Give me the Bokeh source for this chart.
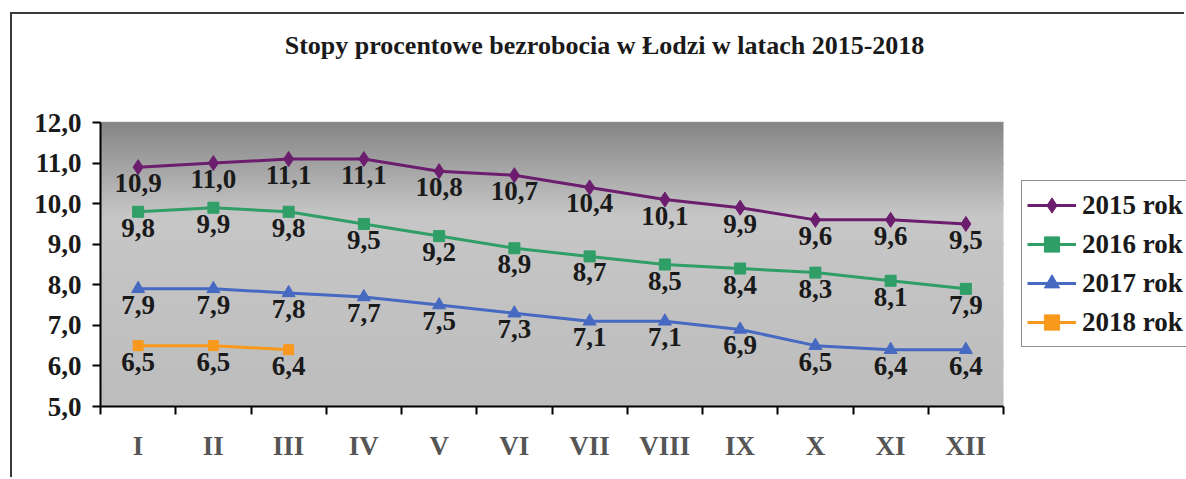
import numpy as np
from bokeh.plotting import figure
from bokeh.models import (FixedTicker, Legend, LegendItem, ColumnDataSource,
                          Range1d, Label)
from bokeh.core.properties import value
from bokeh.embed import file_html
from bokeh.resources import INLINE

# ---------------- data ----------------
months = ["I", "II", "III", "IV", "V", "VI", "VII", "VIII", "IX", "X", "XI", "XII"]
y2015 = [10.9, 11.0, 11.1, 11.1, 10.8, 10.7, 10.4, 10.1, 9.9, 9.6, 9.6, 9.5]
y2016 = [9.8, 9.9, 9.8, 9.5, 9.2, 8.9, 8.7, 8.5, 8.4, 8.3, 8.1, 7.9]
y2017 = [7.9, 7.9, 7.8, 7.7, 7.5, 7.3, 7.1, 7.1, 6.9, 6.5, 6.4, 6.4]
y2018 = [6.5, 6.5, 6.4]
series_names = ["2015 rok", "2016 rok", "2017 rok", "2018 rok"]
y_ticks = [5, 6, 7, 8, 9, 10, 11, 12]
title_text = "Stopy procentowe bezrobocia w Łodzi w latach 2015-2018"

# ---------------- styling / layout ----------------
FNAME = "Liberation Serif"
FONT = value(FNAME)
FS = "27px"
colors = ["#6c1d6e", "#2f9e67", "#4669c1", "#f8991d"]
markers = ["diamond", "square", "triangle", "square"]
msizes = [15, 11, 13, 10]

W, H = 1174, 465
BORDER_LEFT, BORDER_BOTTOM = 88, 73
PLOT_W, PLOT_H = 903, 284          # pixel size of the visible plot area
EXTRA_RIGHT = W - BORDER_LEFT - PLOT_W   # room to the right of the plot area
EXTRA_TOP = H - BORDER_BOTTOM - PLOT_H   # room above the plot area

x_lo, x_hi = 0.5, len(months) + 0.5
y_lo, y_hi = float(y_ticks[0]), float(y_ticks[-1])
x_full = x_hi + EXTRA_RIGHT * (x_hi - x_lo) / PLOT_W
y_full = y_hi + EXTRA_TOP * (y_hi - y_lo) / PLOT_H

p = figure(width=W, height=H,
           x_range=Range1d(x_lo, x_full), y_range=Range1d(y_lo, y_full),
           output_backend="svg", toolbar_location=None,
           min_border_left=BORDER_LEFT, min_border_right=0,
           min_border_top=0, min_border_bottom=BORDER_BOTTOM,
           margin=(12, 0, 0, 10),
           styles={"border-left": "2px solid #3a3a3a",
                   "border-top": "2px solid #3a3a3a"})
p.outline_line_color = None
p.background_fill_color = "white"
p.border_fill_color = "white"

# gradient background of plot area
n = 350
ys = np.linspace(y_lo, y_hi, n)
top_c = np.array([0x86, 0x86, 0x86])
mid_c = np.array([0xc7, 0xc7, 0xc7])
bot_c = np.array([0xbd, 0xbd, 0xbd])
mid_y = 9.7
img = np.zeros((n, 2), dtype=np.uint32)
view = img.view(dtype=np.uint8).reshape((n, 2, 4))
for i, yy in enumerate(ys):
    if yy >= mid_y:
        t = (yy - mid_y) / (y_hi - mid_y)
        c = mid_c + (top_c - mid_c) * t
    else:
        t = (mid_y - yy) / (mid_y - y_lo)
        c = mid_c + (bot_c - mid_c) * t
    view[i, :, 0:3] = c.astype(np.uint8)
    view[i, :, 3] = 255
p.image_rgba(image=[img], x=x_lo, y=y_lo, dw=x_hi - x_lo, dh=y_hi - y_lo)

# grid
p.xgrid.grid_line_color = None
p.ygrid.grid_line_color = "#979797"
p.ygrid.grid_line_width = 1.5
p.ygrid.ticker = FixedTicker(ticks=y_ticks)
p.ygrid.bounds = (y_lo, y_hi)
p.ygrid.cross_bounds = (x_lo, x_hi)

# axes
xs_all = list(range(1, len(months) + 1))
p.xaxis.ticker = FixedTicker(ticks=xs_all,
                             minor_ticks=[x_lo + i for i in range(len(months) + 1)])
p.xaxis.bounds = (x_lo, x_hi)
p.xaxis.major_label_overrides = {i + 1: m for i, m in enumerate(months)}
p.xaxis.major_tick_line_color = None
p.xaxis.minor_tick_line_color = "black"
p.xaxis.minor_tick_line_width = 2
p.xaxis.minor_tick_out = 8
p.xaxis.minor_tick_in = 0
p.xaxis.major_label_standoff = 16
p.xaxis.major_label_text_font = FNAME
p.xaxis.major_label_text_font_style = "bold"
p.xaxis.major_label_text_font_size = FS
p.xaxis.major_label_text_color = "#555555"

p.yaxis.ticker = FixedTicker(ticks=y_ticks, minor_ticks=[])
p.yaxis.bounds = (y_lo, y_hi)
p.yaxis.major_label_overrides = {t: f"{t:.1f}".replace(".", ",") for t in y_ticks}
p.yaxis.major_tick_out = 8
p.yaxis.major_tick_in = 0
p.yaxis.major_tick_line_width = 2
p.yaxis.major_label_standoff = 11
p.yaxis.major_label_text_font = FNAME
p.yaxis.major_label_text_font_style = "bold"
p.yaxis.major_label_text_font_size = FS
p.yaxis.major_label_text_color = "#1a1a1a"

for ax in (p.xaxis, p.yaxis):
    ax.axis_line_width = 2
    ax.axis_line_color = "black"

# series
all_y = [y2015, y2016, y2017, y2018]
items = []
for name, yv, col, mk, ms in zip(series_names, all_y, colors, markers, msizes):
    xv = xs_all[:len(yv)]
    src = ColumnDataSource(dict(x=xv, y=yv,
                                lab=[f"{v:.1f}".replace(".", ",") for v in yv]))
    r1 = p.line("x", "y", source=src, line_color=col, line_width=3)
    r2 = p.scatter("x", "y", source=src, marker=mk, size=ms,
                   fill_color=col, line_color=col)
    p.text("x", "y", text="lab", source=src, text_font=FONT,
           text_font_style="bold", text_font_size=FS, text_color="#1a1a1a",
           text_align="center", text_baseline="middle", y_offset=16)
    items.append(LegendItem(label=name, renderers=[r1, r2]))

legend = Legend(items=items, location=(921, 59), margin=0,
                label_text_font=FNAME, label_text_font_style="bold",
                label_text_font_size=FS, label_text_color="#1a1a1a",
                glyph_width=49, glyph_height=38, label_height=38,
                label_standoff=6, spacing=1, padding=5,
                border_line_color="#222222", border_line_width=1.5,
                background_fill_color="white", background_fill_alpha=1.0)
p.add_layout(legend, "center")

title = Label(x=504, y=361, x_units="screen", y_units="screen", text=title_text,
              text_font=FNAME, text_font_style="bold", text_font_size="26px",
              text_color="#1a1a1a", text_align="center", text_baseline="middle")
p.add_layout(title)

open("out.html", "w").write(file_html(p, INLINE))
